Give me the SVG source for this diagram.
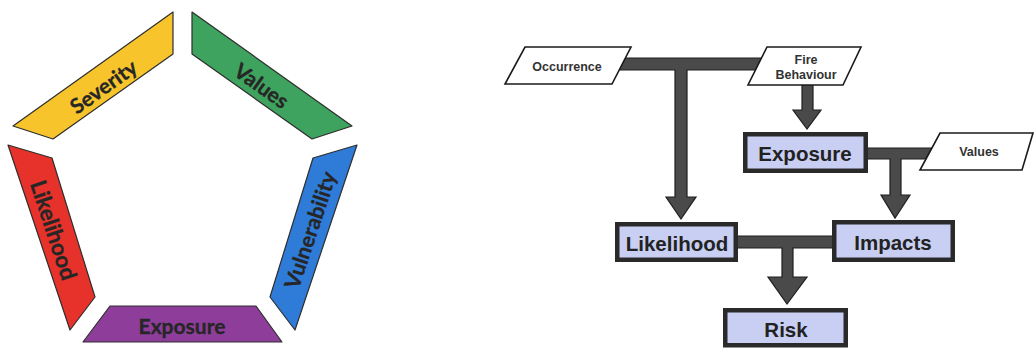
<svg xmlns="http://www.w3.org/2000/svg" width="1035" height="350" viewBox="0 0 1035 350">
<style>
.seg{stroke:#2e2e2e;stroke-width:1.2;stroke-linejoin:round}
.sl{font-family:Lato,"Open Sans",sans-serif;font-weight:bold;font-size:21px;fill:#262626;stroke:#262626;stroke-width:0.3;text-anchor:middle;dominant-baseline:central}
.para{fill:#fff;stroke:#1a1a1a;stroke-width:1.6}
.pl{font-family:"Liberation Sans",Arial,sans-serif;font-weight:bold;font-size:12.5px;fill:#333;text-anchor:middle}
.box{fill:#c8cff2;stroke:#2a2a2a;stroke-width:4.5}
.bl{font-family:"Liberation Sans",Arial,sans-serif;font-weight:bold;font-size:20.5px;fill:#222;text-anchor:middle;dominant-baseline:central}
.con{fill:#4a4a4a;stroke:#1e1e1e;stroke-width:1.2;stroke-linejoin:miter}
</style>
<rect width="1035" height="350" fill="#fff"/>
<g id="pentagon">
<g id="severity"><polygon class="seg" fill="#f8c42c" points="13,126 173,12 173,54 53,139"/><text class="sl" transform="translate(103,86) rotate(-35.5)">Severity</text></g>
<g id="values-seg"><polygon class="seg" fill="#3ea35e" points="192,12 352,126 312,139 192,54"/><text class="sl" transform="translate(262,85) rotate(35.5)">Values</text></g>
<g id="vulnerability"><polygon class="seg" fill="#2f7bd8" points="357,145 313,158 270,297 295,330"/><text class="sl" style="font-size:21.5px" transform="translate(310,230) rotate(-71.7)">Vulnerability</text></g>
<g id="likelihood-seg"><polygon class="seg" fill="#e7322b" points="8,145 52,158 95,297 70,330"/><text class="sl" style="font-size:22.5px" transform="translate(54,230) rotate(71.7)">Likelihood</text></g>
<g id="exposure-seg"><polygon class="seg" fill="#8e3e9a" points="110,306 256,306 282,342 83,342"/><text class="sl" x="182" y="325">Exposure</text></g>
</g>
<g id="connectors">
<polygon class="con" points="615,58 770,58 770,70 687,70 687,197 696,197 681,219 666,197 675,197 675,70 615,70"/>
<polygon class="con" points="802,84 813,84 813,110 821,110 807,129 793,110 802,110"/>
<polygon class="con" points="866,148 935,148 935,159 901,159 901,195 910,195 895,218 881,195 890,195 890,159 866,159"/>
<polygon class="con" points="736,236 834,236 834,248 793,248 793,277 807,277 787,304 768,277 782,277 782,248 736,248"/>
</g>
<g id="occurrence"><polygon class="para" points="525,47 631,47 612,84 505,84"/><text class="pl" x="567" y="71">Occurrence</text></g>
<g id="fire-behaviour"><polygon class="para" points="767,47 861,47 843,85 748,85"/><text class="pl" x="806" y="64">Fire</text><text class="pl" x="806" y="79">Behaviour</text></g>
<g id="values"><polygon class="para" points="940,133 1033,133 1022,170 920,170"/><text class="pl" x="979" y="156">Values</text></g>
<g id="exposure"><rect class="box" x="745.25" y="134.25" width="120.5" height="36.5"/><text class="bl" x="805" y="153">Exposure</text></g>
<g id="likelihood"><rect class="box" x="617.25" y="224.25" width="118.5" height="35.5"/><text class="bl" x="677" y="243">Likelihood</text></g>
<g id="impacts"><rect class="box" x="834.25" y="222.25" width="118.5" height="37.5"/><text class="bl" x="893" y="242">Impacts</text></g>
<g id="risk"><rect class="box" x="725.25" y="310.25" width="120.5" height="35"/><text class="bl" x="786" y="329">Risk</text></g>
</svg>
